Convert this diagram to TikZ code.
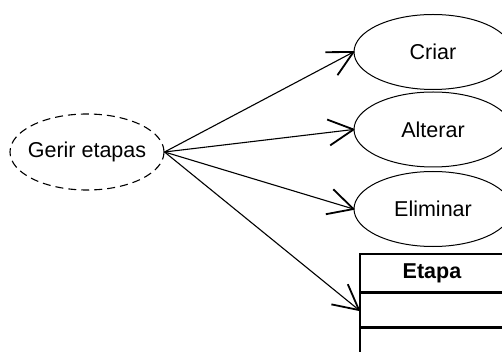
\documentclass[tikz,border=0pt]{standalone}
\usepackage{fontspec}
\setmainfont{Liberation Sans}
\usetikzlibrary{shapes.geometric,arrows.meta,positioning}

% open V-shaped arrow head made of two straight barbs
\pgfdeclarearrow{
  name = OpenVee,
  parameters = {\the\pgfarrowlength,\the\pgfarrowwidth},
  setup code = {
    \pgfarrowssettipend{0pt}
    \pgfarrowssetlineend{-0.8pt}
    \pgfarrowsupperhullpoint{-\pgfarrowlength}{.5\pgfarrowwidth}
    \pgfarrowsupperhullpoint{0pt}{0pt}
    \pgfarrowssavethe\pgfarrowlength
    \pgfarrowssavethe\pgfarrowwidth
  },
  drawing code = {
    \pgfsetlinewidth{1.8pt}
    \pgfsetdash{}{0pt}
    \pgfsetroundjoin
    \pgfsetbuttcap
    \pgfpathmoveto{\pgfqpoint{-\pgfarrowlength}{.5\pgfarrowwidth}}
    \pgfpathlineto{\pgfpointorigin}
    \pgfpathlineto{\pgfqpoint{-\pgfarrowlength}{-.5\pgfarrowwidth}}
    \pgfusepathqstroke
  },
  defaults = {length = 24pt, width = 25pt}
}

\begin{document}
\begin{tikzpicture}[x=1pt,y=-1pt,
  every node/.style={font=\fontsize{21.5}{24}\selectfont, inner sep=0pt},
  usecase/.style={ellipse, draw, line width=1pt, minimum width=158pt, minimum height=75pt},
  abstractcase/.style={usecase, line width=1.1pt, dash pattern=on 8pt off 5pt, minimum width=154pt, minimum height=76pt},
  classpart/.style={rectangle, draw, line width=1.7pt, minimum width=220pt, anchor=north west},
  link/.style={line width=1.1pt, -{OpenVee[length=25pt,width=26pt]}}
]
\useasboundingbox (0,0) rectangle (502,352);
\begin{scope}
\clip (0,0) rectangle (502,352);

% use cases
\node[abstractcase] (gerir) at (87,152) {\makebox[0pt]{Gerir etapas}};
\node[usecase] (criar) at (433,52) {\makebox[0pt]{Criar}};
\node[usecase] (alterar) at (433,129.5) {\makebox[0pt]{Alterar}};
\node[usecase] (eliminar) at (433,209) {\makebox[0pt]{Eliminar}};

% class box
\node[classpart, minimum height=38pt] (etapa) at (359,253) {};
\node at ([xshift=73pt]etapa.west) {\textbf{Etapa}};
\node[classpart, minimum height=33pt] (attrs) at (etapa.south west) {};
\node[classpart, minimum height=60pt] (ops) at (attrs.south west) {};

% associations
\draw[link] (gerir.east) -- (criar.west);
\draw[link] (gerir.east) -- (alterar.west);
\draw[link] (gerir.east) -- (eliminar.west);
\draw[link] (gerir.east) -- (attrs.west);
\end{scope}
\end{tikzpicture}
\end{document}
